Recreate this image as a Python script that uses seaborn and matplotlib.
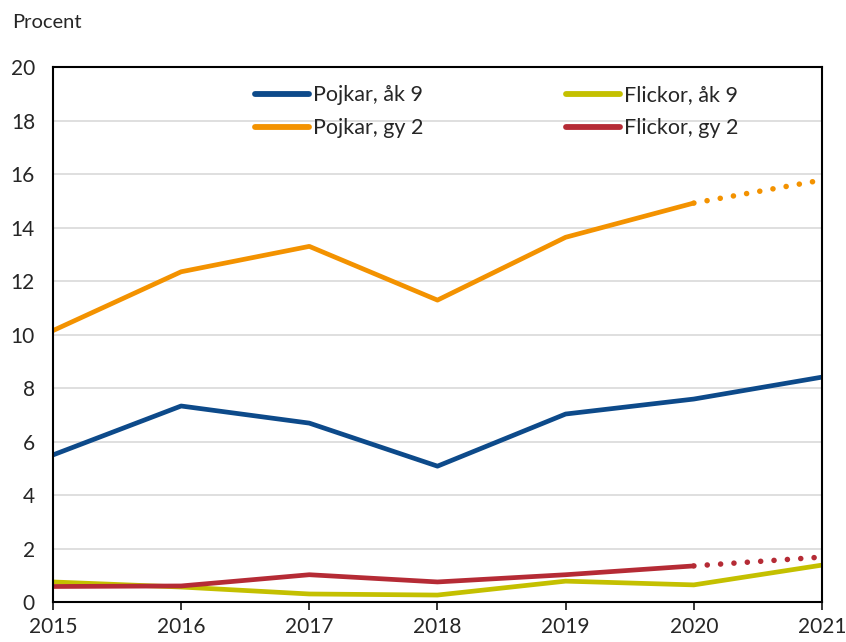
import matplotlib
matplotlib.use("Agg")
import matplotlib.pyplot as plt
import pandas as pd
import seaborn as sns

# Data
years = [2015, 2016, 2017, 2018, 2019, 2020, 2021]
pojkar_ak9 = [5.5, 7.33, 6.69, 5.08, 7.03, 7.59, 8.41]
flickor_ak9 = [0.75, 0.56, 0.3, 0.26, 0.78, 0.64, 1.38]
pojkar_gy2 = [10.15, 12.35, 13.3, 11.29, 13.64, 14.92]
flickor_gy2 = [0.58, 0.6, 1.02, 0.75, 1.02, 1.35]
# dotted continuation 2020 -> 2021
pojkar_gy2_ext = [14.92, 15.78]
flickor_gy2_ext = [1.35, 1.68]
ext_years = [2020, 2021]

labels = ["Pojkar, åk 9", "Pojkar, gy 2", "Flickor, åk 9", "Flickor, gy 2"]
colors = {"Pojkar, åk 9": "#0d4a8a", "Pojkar, gy 2": "#f39200",
          "Flickor, åk 9": "#c4c000", "Flickor, gy 2": "#b52b35"}

rows = []
for y, v in zip(years, pojkar_ak9):
    rows.append({"År": y, "Procent": v, "Grupp": "Pojkar, åk 9"})
for y, v in zip(years[:6], pojkar_gy2):
    rows.append({"År": y, "Procent": v, "Grupp": "Pojkar, gy 2"})
for y, v in zip(years, flickor_ak9):
    rows.append({"År": y, "Procent": v, "Grupp": "Flickor, åk 9"})
for y, v in zip(years[:6], flickor_gy2):
    rows.append({"År": y, "Procent": v, "Grupp": "Flickor, gy 2"})
df = pd.DataFrame(rows)

ext = pd.DataFrame({
    "År": ext_years + ext_years,
    "Procent": pojkar_gy2_ext + flickor_gy2_ext,
    "Grupp": ["Pojkar, gy 2"] * 2 + ["Flickor, gy 2"] * 2,
})

sns.set_style("white")
plt.rcParams["font.family"] = ["Lato", "DejaVu Sans"]

fig = plt.figure(figsize=(8.46, 6.42), dpi=100)
ax = fig.add_axes([0.0626, 0.0623, 0.909, 0.833])

ax.grid(axis="y", color="#d9d9d9", linewidth=1.2, zorder=0)
ax.set_axisbelow(True)

sns.lineplot(data=df, x="År", y="Procent", hue="Grupp", hue_order=labels,
             palette=colors, linewidth=3.4, ax=ax, legend=False,
             solid_capstyle="butt")

# dotted 2020-2021 segments
for grp in ["Pojkar, gy 2", "Flickor, gy 2"]:
    sub = ext[ext["Grupp"] == grp]
    sns.lineplot(data=sub, x="År", y="Procent", color=colors[grp],
                 linewidth=4.0, ax=ax, legend=False)
    ln = ax.lines[-1]
    ln.set_linestyle((2.4, (0.01, 2.4)))
    ln.set_dash_capstyle("round")

ax.set_xlim(2015, 2021)
ax.set_ylim(0, 20)
ax.set_yticks(range(0, 21, 2))
ax.set_xticks(years)
ax.set_xlabel("")
ax.set_ylabel("")
ax.tick_params(axis="y", length=0, pad=13, labelsize=15)
ax.tick_params(axis="x", length=6, width=1.3, direction="out", pad=5,
               labelsize=15, bottom=True)
for s in ax.spines.values():
    s.set_color("black")
    s.set_linewidth(1.5)
    s.set_visible(True)

handles = [plt.Line2D([], [], color=colors[l], linewidth=4.2,
                      solid_capstyle="round") for l in labels]
ax.legend(handles, labels, ncol=2, frameon=False, fontsize=15.5,
          loc="upper left", bbox_to_anchor=(0.263, 0.966),
          handlelength=2.5, handletextpad=0.2, columnspacing=6.6,
          labelspacing=0.6, borderaxespad=0, borderpad=0)

fig.text(0.014, 0.965, "Procent", fontsize=14.5, va="center", ha="left")

fig.savefig("out.png", dpi=100)
